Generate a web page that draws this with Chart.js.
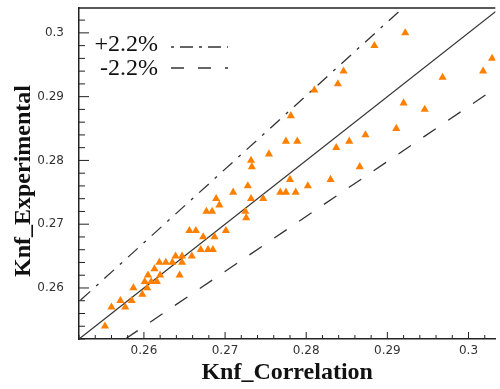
<!DOCTYPE html>
<html>
<head>
<meta charset="utf-8">
<script src="https://cdn.jsdelivr.net/npm/chart.js@4/dist/chart.umd.min.js"></script>
<style>
  html, body { margin: 0; padding: 0; background: #fff; overflow: hidden; }
  #wrap { width: 500px; height: 389px; position: relative; }
</style>
</head>
<body>
<div id="wrap"><canvas id="c"></canvas></div>
<script>
// Thermal conductivity of the nanofluid: correlation vs. measurement
const corrX = [
  0.2552, 0.2560, 0.2571, 0.2577, 0.2585, 0.2587, 0.2598, 0.2601, 0.2604, 0.2609,
  0.2616, 0.2605, 0.2613, 0.2620, 0.2619, 0.2627, 0.2635, 0.2639, 0.2647, 0.2647,
  0.2644, 0.2659, 0.2670, 0.2679, 0.2685, 0.2673, 0.2687, 0.2656, 0.2664, 0.2701,
  0.2677, 0.2684, 0.2693, 0.2689, 0.2710, 0.2725, 0.2726, 0.2728, 0.2732, 0.2747,
  0.2732, 0.2733, 0.2754, 0.2768, 0.2775, 0.2787, 0.2780, 0.2802, 0.2775, 0.2789,
  0.2781, 0.2810, 0.2830, 0.2837, 0.2839, 0.2846, 0.2853, 0.2866, 0.2873, 0.2884,
  0.2911, 0.2920, 0.2922, 0.2946, 0.2968, 0.3018, 0.3029
];
const expY = [
  0.254, 0.257, 0.258, 0.257, 0.258, 0.260, 0.259, 0.261, 0.260, 0.261,
  0.261, 0.262, 0.263, 0.262, 0.264, 0.264, 0.264, 0.265, 0.265, 0.264,
  0.262, 0.265, 0.266, 0.266, 0.266, 0.268, 0.268, 0.269, 0.269, 0.269,
  0.272, 0.272, 0.273, 0.274, 0.275, 0.272, 0.271, 0.276, 0.274, 0.274,
  0.280, 0.279, 0.281, 0.275, 0.275, 0.275, 0.277, 0.276, 0.283, 0.283,
  0.287, 0.291, 0.277, 0.282, 0.292, 0.294, 0.283, 0.279, 0.284, 0.298,
  0.285, 0.289, 0.300, 0.288, 0.293, 0.294, 0.296
];

// Reference lines (end points)
const parityX = [0.2520, 0.3040];
const parityY = [0.2520, 0.3040];
const plusX   = [0.2522, 0.2919];
const plusY   = [0.2581, 0.3039];
const minusX  = [0.2577, 0.3033];
const minusY  = [0.2520, 0.2913];

const xTicks = [0.26, 0.27, 0.28, 0.29, 0.3];
const xTickLabels = ['0.26', '0.27', '0.28', '0.29', '0.3'];
const yTicks = [0.26, 0.27, 0.28, 0.29, 0.3];
const yTickLabels = ['0.26', '0.27', '0.28', '0.29', '0.3'];
const legendLabels = ['+2.2%', '-2.2%'];

const xTitle = 'Knf_Correlation';
const yTitle = 'Knf_Experimental';

const INK = '#222';
const DASH_DOT = [13, 8, 3, 8];
const DASHED = [15, 15];

const pairs = (xs, ys) => xs.map((v, i) => ({ x: v, y: ys[i] }));

const frame = {
  id: 'frame',
  afterDraw(chart) {
    const { ctx, chartArea: a, scales: { x, y } } = chart;
    ctx.save();
    // top frame line
    ctx.strokeStyle = INK;
    ctx.lineWidth = 1.5;
    ctx.beginPath();
    ctx.moveTo(a.left, a.top);
    ctx.lineTo(a.right, a.top);
    ctx.stroke();

    // inward major/minor ticks, every 0.002
    ctx.lineWidth = 1;
    for (let i = 126; i <= 152; i++) {
      const v = i * 0.002;
      const major = i % 5 === 0;
      const py = y.getPixelForValue(v);
      if (py >= a.top && py <= a.bottom) {
        ctx.beginPath();
        ctx.moveTo(a.left, py);
        ctx.lineTo(a.left + (major ? 10 : 6), py);
        ctx.stroke();
      }
      const px = x.getPixelForValue(v);
      if (px >= a.left && px <= a.right) {
        ctx.beginPath();
        ctx.moveTo(px, a.bottom);
        ctx.lineTo(px, a.bottom - (major ? 7 : 4));
        ctx.stroke();
      }
    }

    // legend for the bound lines
    ctx.fillStyle = '#111';
    ctx.font = '24px "Liberation Serif"';
    ctx.textAlign = 'right';
    ctx.textBaseline = 'middle';
    ctx.fillText(legendLabels[0], 158, 45);
    ctx.fillText(legendLabels[1], 158, 69);
    ctx.strokeStyle = '#333';
    ctx.lineWidth = 1.3;
    ctx.setLineDash([3, 6, 13, 6]);
    ctx.beginPath(); ctx.moveTo(171, 47); ctx.lineTo(228, 47); ctx.stroke();
    ctx.setLineDash([13, 14]);
    ctx.beginPath(); ctx.moveTo(171, 68); ctx.lineTo(228, 68); ctx.stroke();
    ctx.setLineDash([]);

    // vertical axis title
    ctx.translate(24, 181);
    ctx.rotate(-Math.PI / 2);
    ctx.textAlign = 'center';
    ctx.font = 'bold 24px "Liberation Serif"';
    ctx.fillText(yTitle, 0, 0);
    ctx.restore();
  }
};

const tickFont = { family: '"DejaVu Sans"', size: 12 };

new Chart(document.getElementById('c'), {
  type: 'scatter',
  data: {
    datasets: [
      {
        data: pairs(corrX, expY),
        pointStyle: 'triangle',
        pointRadius: 4.7,
        pointHoverRadius: 4.7,
        backgroundColor: '#ff8000',
        borderWidth: 0
      },
      {
        data: pairs(parityX, parityY),
        showLine: true, pointRadius: 0,
        borderColor: '#333', borderWidth: 1.3
      },
      {
        data: pairs(plusX, plusY),
        showLine: true, pointRadius: 0,
        borderColor: '#333', borderWidth: 1.3, borderDash: DASH_DOT
      },
      {
        data: pairs(minusX, minusY),
        showLine: true, pointRadius: 0,
        borderColor: '#333', borderWidth: 1.3, borderDash: DASHED
      }
    ]
  },
  options: {
    responsive: true,
    maintainAspectRatio: false,
    devicePixelRatio: 1,
    animation: false,
    layout: { padding: { top: 8, right: 0, bottom: 0, left: 0 } },
    plugins: { legend: { display: false }, tooltip: { enabled: false } },
    scales: {
      x: {
        type: 'linear',
        min: 0.252, max: 0.3033,
        grid: { display: false },
        border: { display: true, color: INK, width: 1.5 },
        afterBuildTicks: s => { s.ticks = xTicks.map(v => ({ value: v })); },
        afterFit: s => { s.height = 50; s.paddingLeft = 0; s.paddingRight = 0; },
        ticks: {
          padding: -3,
          color: '#333',
          font: tickFont,
          maxRotation: 0,
          callback: (v, i) => xTickLabels[i]
        },
        title: {
          display: true,
          text: xTitle,
          color: '#111',
          font: { family: '"Liberation Serif"', size: 24, weight: 'bold' },
          padding: { top: 0, bottom: 2 }
        }
      },
      y: {
        type: 'linear',
        min: 0.252, max: 0.3039,
        grid: { display: false },
        border: { display: true, color: INK, width: 1.5 },
        afterBuildTicks: s => { s.ticks = yTicks.map(v => ({ value: v })); },
        afterFit: s => { s.width = 79; s.paddingTop = 0; s.paddingBottom = 0; },
        ticks: {
          padding: 7,
          color: '#333',
          font: tickFont,
          callback: (v, i) => yTickLabels[i]
        }
      }
    }
  },
  plugins: [frame]
});
</script>
</body>
</html>
